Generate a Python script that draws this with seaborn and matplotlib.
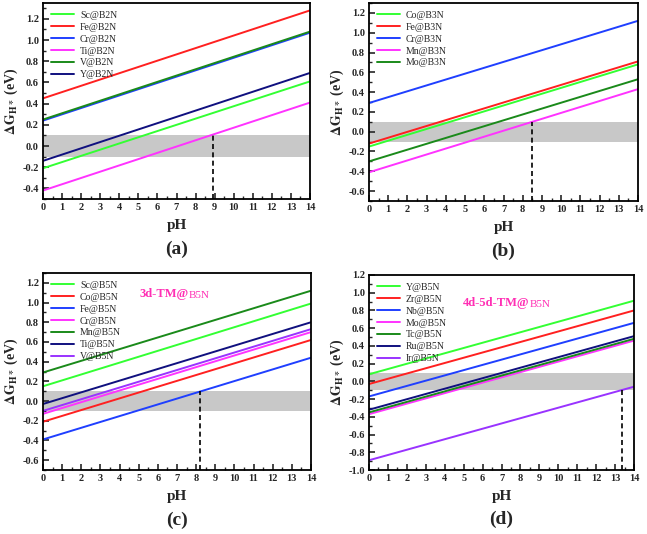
import matplotlib
matplotlib.use('Agg')
import matplotlib.pyplot as plt
from matplotlib.ticker import MultipleLocator
import seaborn as sns
import pandas as pd

sns.set_theme(style="white")
plt.rcParams.update({
    'font.family': ['Liberation Serif', 'DejaVu Serif'],
    'mathtext.fontset': 'stix',
    'axes.edgecolor': 'black',
    'axes.linewidth': 1.3,
    'xtick.direction': 'in',
    'ytick.direction': 'in',
    'xtick.bottom': True,
    'ytick.left': True,
})

# pH end points of each (straight) line
ph = [0, 14]

# (a) TM@B2N : value at pH 0 and pH 14
names_a = ['Sc@B2N', 'Fe@B2N', 'Cr@B2N', 'Ti@B2N', 'V@B2N', 'Y@B2N']
start_a = [-0.21, 0.45, 0.24, -0.42, 0.25, -0.14]
end_a = [0.61, 1.28, 1.07, 0.41, 1.08, 0.69]
colors_a = ['#33ff33', '#ff2020', '#1f3fff', '#ff33ff', '#1a8a1a', '#10107f']

# (b) TM@B3N
names_b = ['Co@B3N', 'Fe@B3N', 'Cr@B3N', 'Mn@B3N', 'Mo@B3N']
start_b = [-0.15, -0.12, 0.29, -0.41, -0.30]
end_b = [0.68, 0.71, 1.12, 0.43, 0.53]
colors_b = ['#33ff33', '#ff2020', '#1f3fff', '#ff33ff', '#1a8a1a']

# (c) 3d-TM@B5N
names_c = ['Sc@B5N', 'Co@B5N', 'Fe@B5N', 'Cr@B5N', 'Mn@B5N', 'Ti@B5N', 'V@B5N']
start_c = [0.15, -0.21, -0.39, -0.13, 0.29, -0.03, -0.10]
end_c = [0.99, 0.62, 0.44, 0.70, 1.12, 0.80, 0.73]
colors_c = ['#33ff33', '#ff2020', '#1f3fff', '#ff33ff', '#1a8a1a', '#10107f', '#9933ff']

# (d) 4d-5d-TM@B5N
names_d = ['Y@B5N', 'Zr@B5N', 'Nb@B5N', 'Mo@B5N', 'Tc@B5N', 'Ru@B5N', 'Ir@B5N']
start_d = [0.08, -0.03, -0.17, -0.37, -0.35, -0.32, -0.89]
end_d = [0.91, 0.80, 0.66, 0.46, 0.48, 0.51, -0.06]
colors_d = ['#33ff33', '#ff2020', '#1f3fff', '#ff33ff', '#1a8a1a', '#10107f', '#9933ff']

# limiting pH (dashed line) and the level where it stops
limit_ph = [8.9, 8.5, 8.2, 13.35]
limit_top = [0.1, 0.1, 0.1, -0.1]
ylims = [(-0.5, 1.35), (-0.7, 1.3), (-0.7, 1.3), (-1.0, 1.2)]
letters = ['(a)', '(b)', '(c)', '(d)']

W, H = 647, 534
boxes = [(43, 3, 310, 199), (369, 3, 638, 201), (43, 273, 311, 470), (369, 275, 634, 470)]

fig = plt.figure(figsize=(W / 100, H / 100), dpi=100)

panels = [(names_a, start_a, end_a, colors_a), (names_b, start_b, end_b, colors_b),
          (names_c, start_c, end_c, colors_c), (names_d, start_d, end_d, colors_d)]

for i, (names, s, e, cols) in enumerate(panels):
    x0, y0, x1, y1 = boxes[i]
    ax = fig.add_axes([x0 / W, 1 - y1 / H, (x1 - x0) / W, (y1 - y0) / H])
    rows = []
    for n, a, b in zip(names, s, e):
        rows.append({'pH': ph[0], 'dG': a, 'name': n})
        rows.append({'pH': ph[1], 'dG': b, 'name': n})
    df = pd.DataFrame(rows)
    ax.axhspan(-0.1, 0.1, color='#c8c8c8', lw=0, zorder=0)
    sns.lineplot(data=df, x='pH', y='dG', hue='name', hue_order=names,
                 palette=dict(zip(names, cols)), lw=1.4, ax=ax)
    ax.vlines(limit_ph[i], ylims[i][0], limit_top[i], colors='black',
              linestyles=(0, (3, 2)), lw=1.2)
    ax.set_xlim(0, 14)
    ax.set_ylim(*ylims[i])
    ax.xaxis.set_major_locator(MultipleLocator(1))
    ax.xaxis.set_minor_locator(MultipleLocator(0.5))
    ax.yaxis.set_major_locator(MultipleLocator(0.2))
    ax.yaxis.set_minor_locator(MultipleLocator(0.1))
    ax.tick_params(which='major', length=4, width=1.2, labelsize=7.5, pad=3)
    ax.tick_params(which='minor', length=2.5, width=1.0)
    for lab in ax.get_xticklabels() + ax.get_yticklabels():
        lab.set_fontweight('bold')
    ax.set_yticks([t for t in ax.get_yticks() if ylims[i][0] <= t <= ylims[i][1] + 1e-9])
    ax.yaxis.set_major_formatter(matplotlib.ticker.FuncFormatter(lambda v, p: f'{v:.1f}'))
    ax.set_xlabel('pH', fontsize=11, fontweight='bold', labelpad=5)
    ax.set_ylabel(r'$\mathbf{\Delta G_{H*}}$ (eV)', fontsize=10, fontweight='bold', labelpad=2)
    ax.text(0.5, -0.255, letters[i], transform=ax.transAxes, ha='center', va='center',
            fontsize=14, fontweight='bold')
    leg = ax.legend(loc='upper left', frameon=False, fontsize=7, handlelength=2.4,
                    handletextpad=0.6, labelspacing=0.3, borderaxespad=0.4,
                    bbox_to_anchor=(0.0, 1.0))
    for ln in leg.get_lines():
        ln.set_linewidth(1.4)
    if i == 2:
        t = ax.text(0.36, 0.88, '3d-TM@', transform=ax.transAxes, color='#ff2fb4',
                    fontsize=9, fontweight='bold', va='baseline')
        ax.annotate('B5N', xy=(1, 0), xycoords=t, color='#ff2fb4', fontsize=8, va='bottom')
    if i == 3:
        t = ax.text(0.355, 0.84, '4d-5d-TM@', transform=ax.transAxes, color='#ff2fb4',
                    fontsize=9, fontweight='bold', va='baseline')
        ax.annotate('B5N', xy=(1, 0), xycoords=t, color='#ff2fb4', fontsize=8, va='bottom')

fig.savefig('out.png', dpi=100, facecolor='white')
